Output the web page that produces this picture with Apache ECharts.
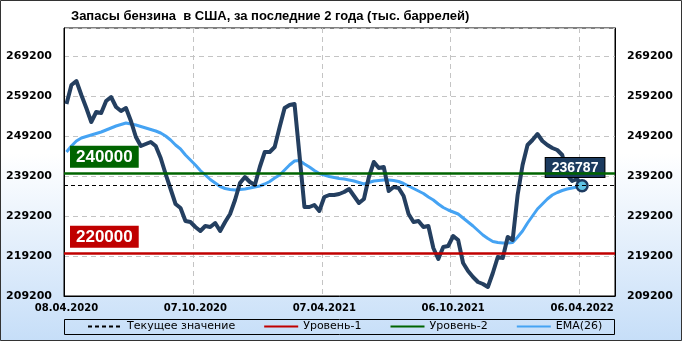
<!DOCTYPE html>
<html><head><meta charset="utf-8">
<script src="https://cdn.jsdelivr.net/npm/echarts@6/dist/echarts.min.js"></script>
<style>html,body{margin:0;padding:0;background:#fff}#c{width:682px;height:341px}</style>
</head><body><div id="c"></div>
<script>
const title = 'Запасы бензина  в США, за последние 2 года (тыс. баррелей)';
const xTickLabels = ['08.04.2020','07.10.2020','07.04.2021','06.10.2021','06.04.2022'];
const stocks = [257200,261950,262950,259450,256200,252700,255200,254950,257950,258950,
256450,255450,256200,252950,248950,246700,247200,247700,246700,243700,
239700,235950,232200,231200,227950,227700,226450,225450,226700,226450,
227450,225450,227700,229700,233200,237450,238950,237700,236950,241450,
245200,245200,246450,251450,256200,256950,257200,244450,231450,231450,
231950,230450,233950,234450,234450,234700,235200,235950,234200,232450,
233450,238950,242700,241200,241450,235450,236450,236200,234200,229700,
227700,227950,226450,226700,221200,218450,221450,221700,224200,223200,
217450,215450,213950,212700,212200,211450,214950,218950,218700,223950,
223200,234450,241950,246950,248200,249700,247950,246950,246200,245700,
244450,239450,237950,238450,236787];
const ema26 = [245200,246700,247950,248700,249075,249450,249825,250200,250700,251200,
251700,252075,252450,252200,251950,251575,251200,250825,250450,249950,
249200,248200,246950,245950,244450,243200,241950,240575,239450,238325,
237450,236575,236075,235825,235700,235825,235950,236200,236450,236700,
237200,237825,238700,239450,240700,241950,242950,243075,242200,241450,
240575,239825,239450,239075,238825,238575,238450,238200,237950,237575,
237200,237575,237950,238075,238200,238200,238075,237825,237325,236700,
236075,235450,234825,233950,233200,232200,231325,230700,230200,229700,
228700,227700,226700,225575,224450,223575,222825,222575,222450,222450,
222575,223950,225450,227450,229200,230950,232200,233450,234450,235075,
235575,235950,236200,236450,236575];
const level1 = 220000;
const level2 = 240000;
const currentValue = stocks[stocks.length - 1];
const legendNames = ['Текущее значение','Уровень-1','Уровень-2','EMA(26)'];

const DAY_STEP = 7, POINT_SHIFT = 3.5, LABEL_STEP = 182;
const xOf = i => i * DAY_STEP + POINT_SHIFT;

const chart = echarts.init(document.getElementById('c'), null, {renderer:'canvas'});
const mainData = stocks.map((v,i) => [xOf(i), v]);
const last = mainData.length - 1;
mainData[last] = {
  value: mainData[last],
  symbol: 'circle', symbolSize: 11,
  itemStyle: {color:'#5fc3e4', borderColor:'#1d3a5f', borderWidth:2.5},
  label: {show:true, position:'top', offset:[-7,3], formatter: p => String(p.value[1]),
    backgroundColor:'#1b3a5e', borderColor:'#000', borderWidth:1, padding:[3,6,2,6],
    color:'#fff', fontWeight:'bold', fontSize:14, fontFamily:'Liberation Sans'}
};
const emaData = ema26.map((v,i) => [xOf(i), v]);
const lblFont = {fontFamily:'DejaVu Sans', fontWeight:'bold', fontSize:11, color:'#000'};

const levelLabel = (bg) => ({show:true, position:'insideStartTop', distance:[6,5],
  formatter: p => String(p.value), backgroundColor:bg, color:'#fff', fontWeight:'bold',
  fontSize:17, fontFamily:'Liberation Sans', padding:[3,6,2,6]});

chart.setOption({
  animation:false,
  backgroundColor: new echarts.graphic.LinearGradient(0,0,0,1,[
    {offset:0,color:'#ffffff'},{offset:0.45,color:'#ffffff'},{offset:1,color:'#c6def8'}]),
  title:{text:title, left:66, top:5, textStyle:{fontFamily:'Liberation Sans', fontWeight:'bold', fontSize:13, color:'#000'}},
  grid:{left:64, right:67, top:28, bottom:45, show:true, backgroundColor:'#fff', borderColor:'#000', borderWidth:1, containLabel:false},
  legend:{data:legendNames, left:87, top:321, itemWidth:34, itemHeight:8, itemGap:28, padding:0,
    itemStyle:{opacity:0},
    textStyle:{fontFamily:'DejaVu Sans', fontSize:11, color:'#000'}},
  graphic:[
    {type:'rect', shape:{x:64.5,y:319.5,width:550,height:15}, style:{fill:'none', stroke:'#000', lineWidth:1}, z:0},
    {type:'rect', shape:{x:0.5,y:0.5,width:681,height:340}, style:{fill:'none', stroke:'#333', lineWidth:1}, z:0}
  ],
  xAxis:{type:'value', min:0, max:778, interval:LABEL_STEP,
    axisLine:{show:true, lineStyle:{color:'#000'}}, axisTick:{show:false},
    axisLabel:Object.assign({}, lblFont, {margin:7, showMaxLabel:false, padding:[0,0,0,5], fontSize:10,
      formatter: v => xTickLabels[Math.round(v / LABEL_STEP)] || ''}),
    splitLine:{show:true, lineStyle:{color:'#c4c4c4', type:[5,4]}}},
  yAxis:[
    {type:'value', min:209200, max:276200, interval:10000, position:'left',
     axisLine:{show:true, lineStyle:{color:'#000'}}, axisTick:{show:false},
     axisLabel:Object.assign({margin:12, showMaxLabel:false, formatter: v => String(v)}, lblFont),
     splitLine:{show:true, lineStyle:{color:'#c4c4c4', type:[5,4]}}},
    {type:'value', min:209200, max:276200, interval:10000, position:'right',
     axisLine:{show:true, lineStyle:{color:'#000'}}, axisTick:{show:false},
     axisLabel:Object.assign({margin:12, showMaxLabel:false, formatter: v => String(v)}, lblFont),
     splitLine:{show:false}}
  ],
  series:[
    {name:'Текущее значение', type:'line', data:[], symbol:'none',
     lineStyle:{color:'#000', width:1, type:[4,3]}, itemStyle:{color:'#000'},
     markLine:{silent:true, symbol:['none','none'], label:{show:false},
       lineStyle:{color:'#000', width:1, type:[4,3]}, data:[{yAxis:currentValue}]}},
    {name:'Уровень-1', type:'line', data:[], symbol:'none',
     lineStyle:{color:'#c00000', width:2.5}, itemStyle:{color:'#c00000'},
     markLine:{silent:true, symbol:['none','none'], label:levelLabel('#c00000'),
       lineStyle:{color:'#c00000', width:2.5, type:'solid'}, data:[{yAxis:level1}]}},
    {name:'Уровень-2', type:'line', data:[], symbol:'none',
     lineStyle:{color:'#006400', width:2.5}, itemStyle:{color:'#006400'},
     markLine:{silent:true, symbol:['none','none'], label:levelLabel('#006400'),
       lineStyle:{color:'#006400', width:2.5, type:'solid'}, data:[{yAxis:level2}]}},
    {name:'EMA(26)', type:'line', data:emaData, symbol:'none', z:3,
     lineStyle:{color:'#45a3f3', width:3}, itemStyle:{color:'#45a3f3'}},
    {name:'Запасы', type:'line', data:mainData, symbol:'none', showSymbol:true, z:4,
     lineStyle:{color:'#243f60', width:4, join:'round'}, itemStyle:{color:'#243f60'}}
  ]
});
</script></body></html>
